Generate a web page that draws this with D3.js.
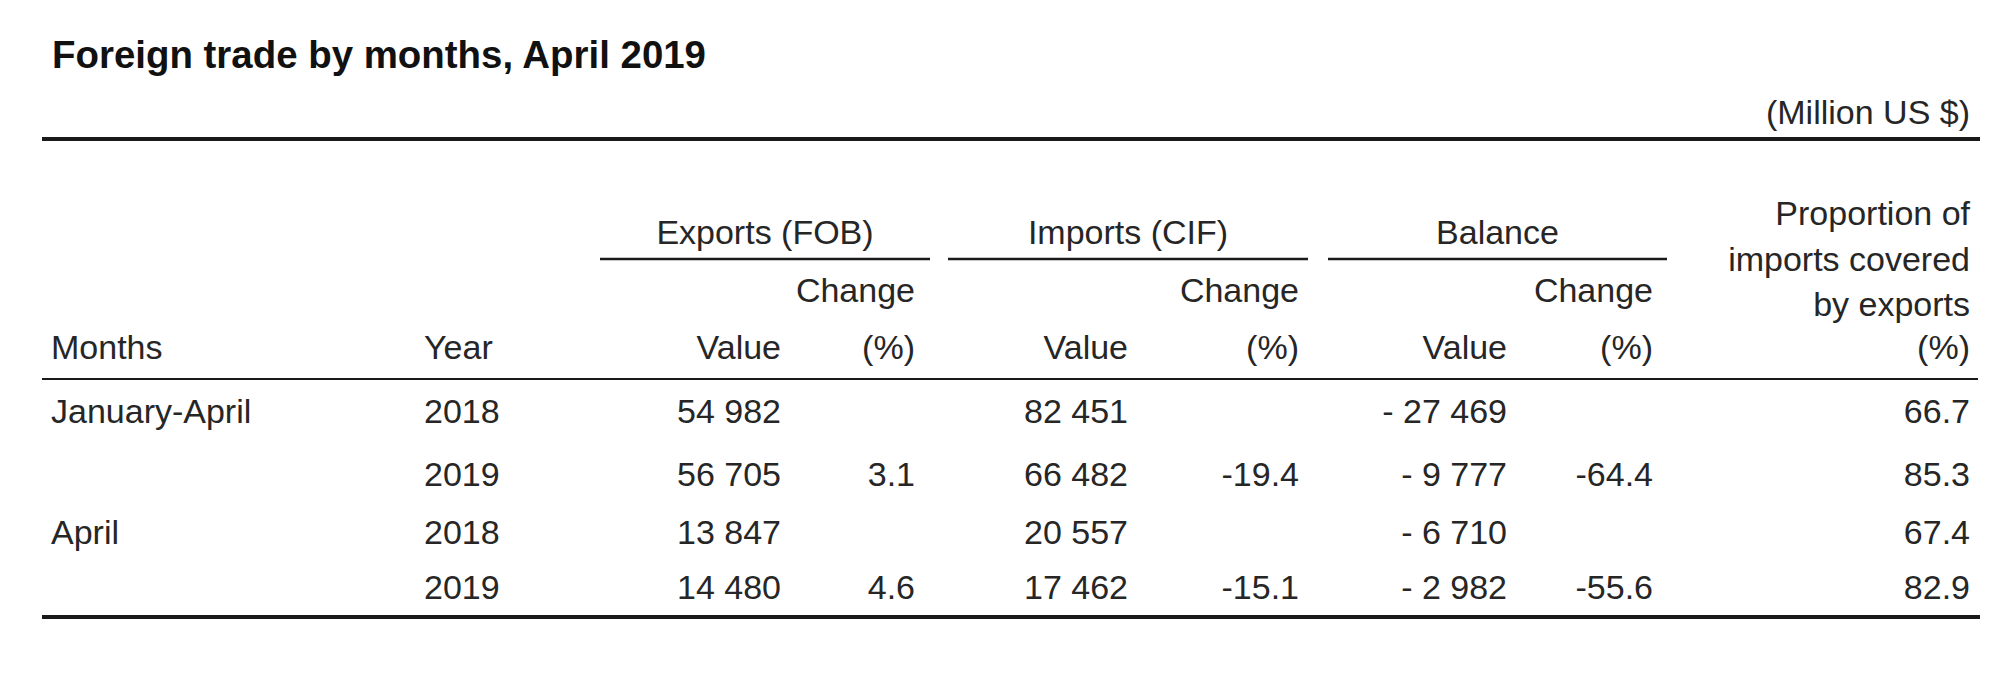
<!DOCTYPE html>
<html>
<head>
<meta charset="utf-8">
<script src="https://cdn.jsdelivr.net/npm/d3@7"></script>
<style>
  html, body { margin: 0; padding: 0; background: #fff; }
  svg { display: block; }
</style>
</head>
<body>
<svg id="chart" width="2014" height="675"></svg>
<script>
// ---- data ----
const title = "Foreign trade by months, April 2019";
const unitLabel = "(Million US $)";
const months = ["January-April", "", "April", ""];
const years = ["2018", "2019", "2018", "2019"];
const exportsValue = [54982, 56705, 13847, 14480];
const exportsChange = [null, 3.1, null, 4.6];
const importsValue = [82451, 66482, 20557, 17462];
const importsChange = [null, -19.4, null, -15.1];
const balanceValue = [-27469, -9777, -6710, -2982];
const balanceChange = [null, -64.4, null, -55.6];
const coverage = [66.7, 85.3, 67.4, 82.9];
const groupHeaders = ["Exports (FOB)", "Imports (CIF)", "Balance"];
const coverageHeader = ["Proportion of", "imports covered", "by exports", "(%)"];

// ---- layout ----
const svg = d3.select("#chart");
const FONT = "'Liberation Sans', Arial, sans-serif";
const ink = "#262626";

const loc = d3.formatLocale({decimal: ".", thousands: " ", grouping: [3], currency: ["", ""], minus: "-"});
const fInt = loc.format(",d");
const fDec = loc.format(".1f");
const fBal = v => (v < 0 ? "- " : "") + fInt(Math.abs(v));

// column right edges (or left for start-anchored)
const colKeys = ["months", "year", "expV", "expC", "impV", "impC", "balV", "balC", "cov"];
const x = d3.scaleOrdinal().domain(colKeys)
  .range([51, 424, 781, 915, 1128, 1299, 1507, 1653, 1970]);
const anchor = d3.scaleOrdinal().domain(colKeys)
  .range(["start", "start", "end", "end", "end", "end", "end", "end", "end"]);

const rowIdx = d3.range(months.length);
const y = d3.scaleOrdinal().domain(rowIdx).range([423, 486, 544, 599]);

// title
svg.append("text")
  .attr("x", 52).attr("y", 68)
  .attr("font-family", FONT).attr("font-weight", "bold").attr("font-size", 38)
  .attr("textLength", 654).attr("lengthAdjust", "spacingAndGlyphs")
  .attr("fill", "#111")
  .text(title);

svg.append("text")
  .attr("x", 1970).attr("y", 124).attr("text-anchor", "end")
  .attr("font-family", FONT).attr("font-size", 34).attr("fill", ink)
  .text(unitLabel);

// rules
const rules = [
  {x1: 42, x2: 1980, y: 139, w: 4},
  {x1: 42, x2: 1978, y: 379, w: 2.2},
  {x1: 42, x2: 1980, y: 617, w: 4}
];
svg.selectAll("line.rule").data(rules).join("line").attr("class", "rule")
  .attr("x1", d => d.x1).attr("x2", d => d.x2)
  .attr("y1", d => d.y).attr("y2", d => d.y)
  .attr("stroke", "#1a1a1a").attr("stroke-width", d => d.w);

// group headers with underlines
const groupSpan = d3.scaleOrdinal().domain(groupHeaders)
  .range([[600, 930], [948, 1308], [1328, 1667]]);
const g = svg.selectAll("g.grp").data(groupHeaders).join("g").attr("class", "grp");
g.append("text")
  .attr("x", d => (groupSpan(d)[0] + groupSpan(d)[1]) / 2)
  .attr("y", 244).attr("text-anchor", "middle")
  .attr("font-family", FONT).attr("font-size", 34).attr("fill", ink)
  .text(d => d);
g.append("line")
  .attr("x1", d => groupSpan(d)[0]).attr("x2", d => groupSpan(d)[1])
  .attr("y1", 259).attr("y2", 259)
  .attr("stroke", "#1a1a1a").attr("stroke-width", 2.5);

// "Change" sub header
svg.selectAll("text.chg").data(["expC", "impC", "balC"]).join("text").attr("class", "chg")
  .attr("x", d => x(d)).attr("y", 302).attr("text-anchor", "end")
  .attr("font-family", FONT).attr("font-size", 34).attr("fill", ink)
  .text("Change");

// column header row
const colHeaders = [
  {k: "months", t: "Months"}, {k: "year", t: "Year"},
  {k: "expV", t: "Value"}, {k: "expC", t: "(%)"},
  {k: "impV", t: "Value"}, {k: "impC", t: "(%)"},
  {k: "balV", t: "Value"}, {k: "balC", t: "(%)"}
];
svg.selectAll("text.colh").data(colHeaders).join("text").attr("class", "colh")
  .attr("x", d => x(d.k)).attr("y", 359).attr("text-anchor", d => anchor(d.k))
  .attr("font-family", FONT).attr("font-size", 34).attr("fill", ink)
  .text(d => d.t);

// coverage header (multi-line)
const covY = d3.scaleOrdinal().domain(d3.range(coverageHeader.length)).range([225, 271, 316, 359]);
svg.selectAll("text.covh").data(coverageHeader).join("text").attr("class", "covh")
  .attr("x", x("cov")).attr("y", (d, i) => covY(i)).attr("text-anchor", "end")
  .attr("font-family", FONT).attr("font-size", 34).attr("fill", ink)
  .text(d => d);

// body cells
const cells = [];
rowIdx.forEach(i => {
  cells.push({k: "months", i, t: months[i]});
  cells.push({k: "year", i, t: years[i]});
  cells.push({k: "expV", i, t: fInt(exportsValue[i])});
  cells.push({k: "expC", i, t: exportsChange[i] == null ? "" : fDec(exportsChange[i])});
  cells.push({k: "impV", i, t: fInt(importsValue[i])});
  cells.push({k: "impC", i, t: importsChange[i] == null ? "" : fDec(importsChange[i])});
  cells.push({k: "balV", i, t: fBal(balanceValue[i])});
  cells.push({k: "balC", i, t: balanceChange[i] == null ? "" : fDec(balanceChange[i])});
  cells.push({k: "cov", i, t: fDec(coverage[i])});
});
svg.selectAll("text.cell").data(cells.filter(c => c.t !== "")).join("text").attr("class", "cell")
  .attr("x", d => x(d.k)).attr("y", d => y(d.i)).attr("text-anchor", d => anchor(d.k))
  .attr("font-family", FONT).attr("font-size", 34).attr("fill", ink)
  .text(d => d.t);
</script>
</body>
</html>
